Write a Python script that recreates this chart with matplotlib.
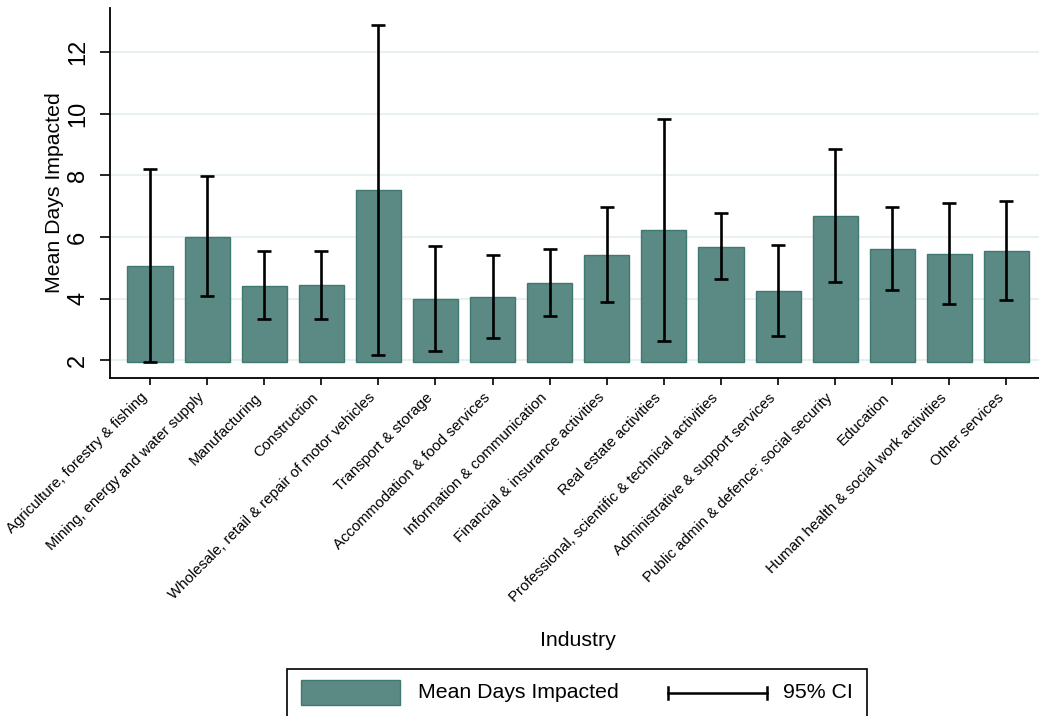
import matplotlib
matplotlib.use("Agg")
import matplotlib.pyplot as plt
from matplotlib.patches import Rectangle
from matplotlib.lines import Line2D
import numpy as np

plt.rcParams['font.family'] = ['Liberation Sans', 'DejaVu Sans']

industries = [
    "Agriculture, forestry & fishing",
    "Mining, energy and water supply",
    "Manufacturing",
    "Construction",
    "Wholesale, retail & repair of motor vehicles",
    "Transport & storage",
    "Accommodation & food services",
    "Information & communication",
    "Financial & insurance activities",
    "Real estate activities",
    "Professional, scientific & technical activities",
    "Administrative & support services",
    "Public admin & defence; social security",
    "Education",
    "Human health & social work activities",
    "Other services",
]
mean_days = [5.06, 6.00, 4.41, 4.44, 7.51, 4.00, 4.06, 4.49, 5.42, 6.21, 5.68, 4.25, 6.68, 5.61, 5.44, 5.55]
ci_low = [1.94, 4.07, 3.33, 3.34, 2.18, 2.30, 2.72, 3.42, 3.88, 2.62, 4.64, 2.79, 4.52, 4.27, 3.81, 3.96]
ci_high = [8.20, 7.98, 5.54, 5.55, 12.88, 5.72, 5.40, 5.60, 6.98, 9.82, 6.78, 5.74, 8.86, 6.97, 7.10, 7.15]
yticks = [2, 4, 6, 8, 10, 12]
base = 1.95

bar_color = "#5a8a83"
edge_color = "#3f7a71"
grid_color = "#e8f0f2"

W, H = 1039, 716
fig = plt.figure(figsize=(W / 100, H / 100), dpi=100)
ax = fig.add_axes([110 / W, 1 - 378 / H, 929 / W, 370 / H])

x = np.arange(len(industries))
means = np.array(mean_days)
ax.bar(x, means - base, bottom=base, width=0.79, color=bar_color,
       edgecolor=edge_color, linewidth=1.0, zorder=2)
ax.errorbar(x, means, yerr=[means - np.array(ci_low), np.array(ci_high) - means],
            fmt='none', ecolor='black', elinewidth=1.9, capsize=5, capthick=1.9, zorder=3)

ax.set_xlim(-0.7, 15.57)
ax.set_ylim(1.42, 13.43)
ax.set_yticks(yticks)
ax.set_yticklabels([str(t) for t in yticks], rotation=90, va='center', fontsize=17)
ax.set_xticks(x)
ax.set_xticklabels(industries, rotation=45, ha='right', fontsize=10.8)
ax.tick_params(axis='y', length=7, width=1.2, pad=8)
ax.tick_params(axis='x', length=5, width=1.2, pad=4)
ax.yaxis.grid(True, color=grid_color, linewidth=1.5, zorder=0)
ax.set_axisbelow(True)
for s in ['top', 'right']:
    ax.spines[s].set_visible(False)
for s in ['left', 'bottom']:
    ax.spines[s].set_linewidth(1.3)

ax.set_ylabel("Mean Days Impacted", fontsize=15.3)
ax.yaxis.set_label_coords(-46 / 929, 0.5)
fig.text(578 / W, 1 - 641 / H, "Industry", fontsize=15.3, ha='center', va='center')

# legend box (drawn in figure coordinates)
fig.patches.append(Rectangle((287 / W, 1 - 740 / H), 580 / W, 71 / H, transform=fig.transFigure,
                             facecolor='white', edgecolor='black', linewidth=1.2))
fig.patches.append(Rectangle((301 / W, 1 - 705 / H), 99 / W, 25 / H, transform=fig.transFigure,
                             facecolor=bar_color, edgecolor=edge_color, linewidth=1.0))
fig.text(418 / W, 1 - 693 / H, "Mean Days Impacted", fontsize=15.3, ha='left', va='center')
fig.lines.append(Line2D([668 / W, 767 / W], [1 - 693 / H, 1 - 693 / H], transform=fig.transFigure,
                        color='black', linewidth=1.8))
for xx in (668, 767):
    fig.lines.append(Line2D([xx / W, xx / W], [1 - 687 / H, 1 - 699 / H], transform=fig.transFigure,
                            color='black', linewidth=1.8))
fig.text(783 / W, 1 - 693 / H, "95% CI", fontsize=15.3, ha='left', va='center')

fig.savefig("out.png", dpi=100)
